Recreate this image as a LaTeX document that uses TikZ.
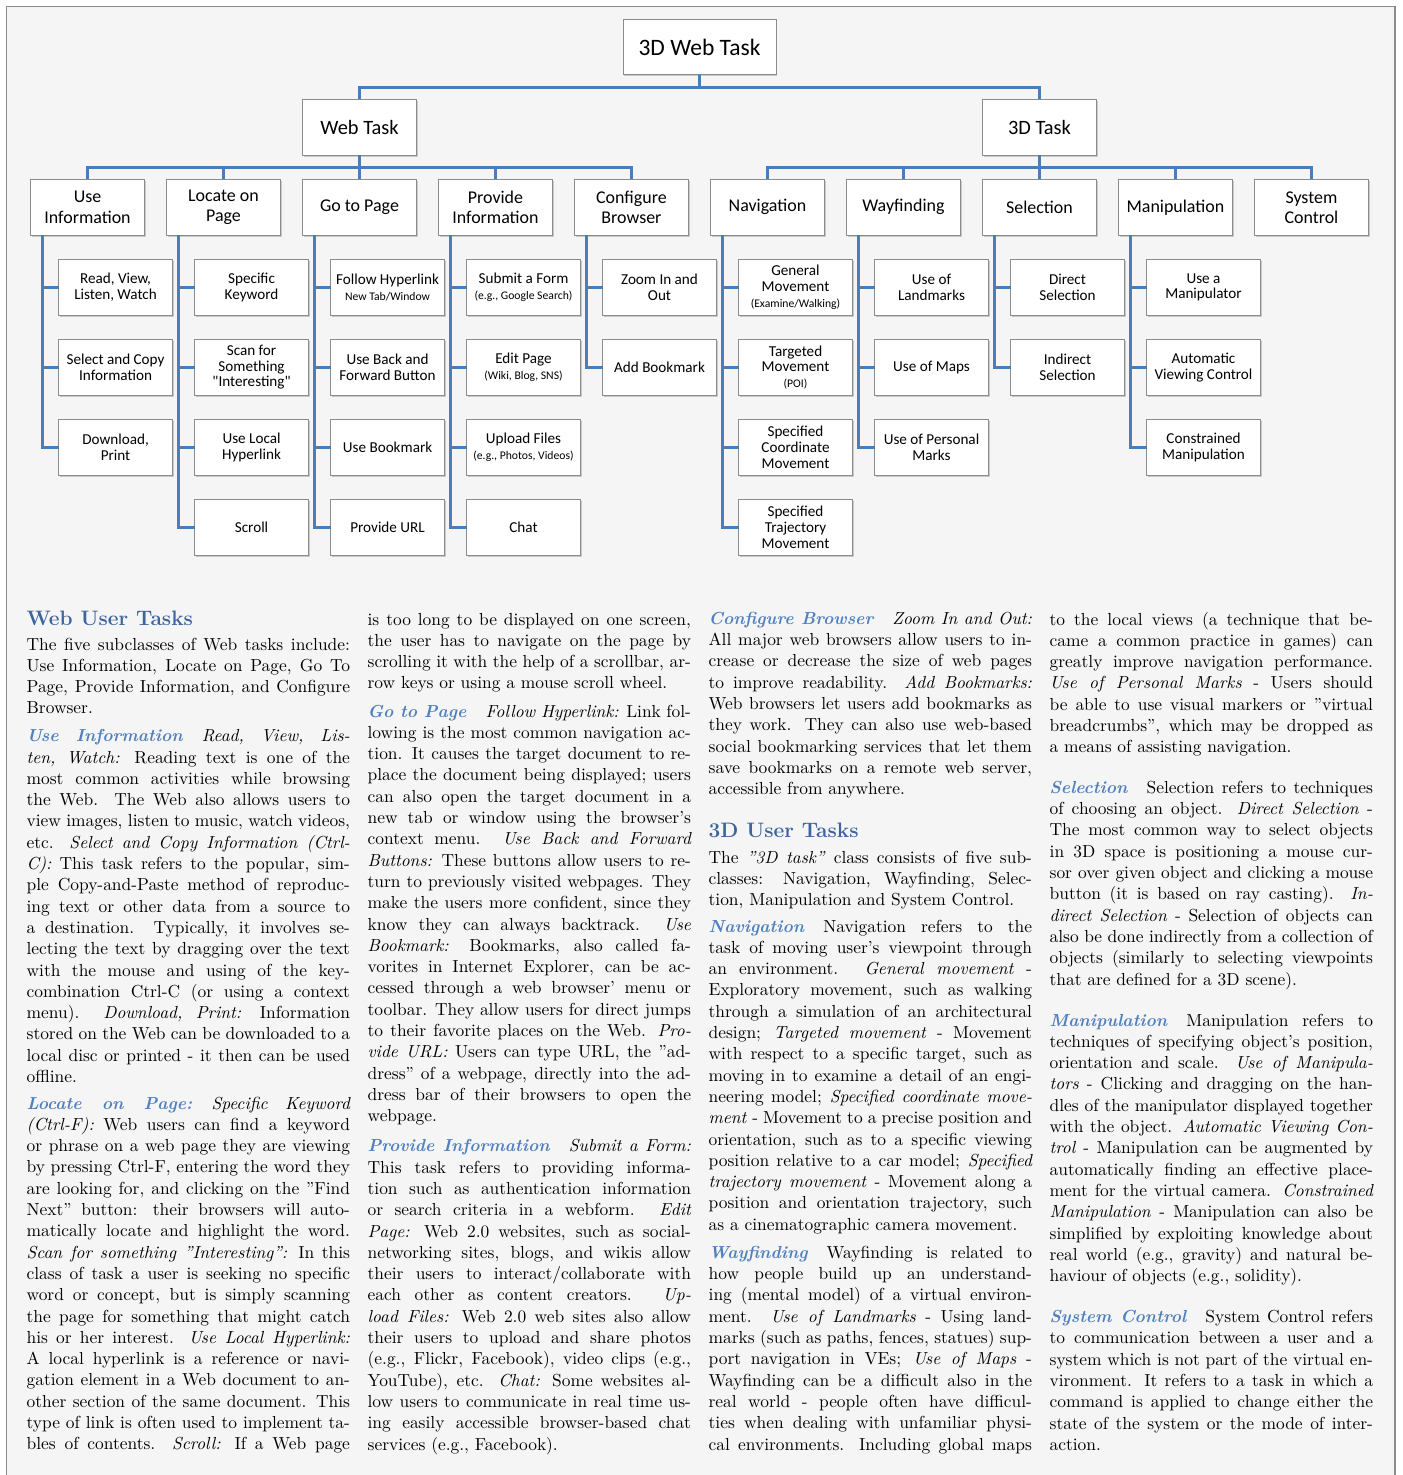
\documentclass[tikz,border=0pt]{standalone}
\usepackage{fontspec}
\usepackage{xcolor}
\usetikzlibrary{positioning,shadows}

\newfontfamily\boxfont{Carlito}

\definecolor{linkblue}{RGB}{74,126,187}
\definecolor{boxgray}{RGB}{140,140,140}
\definecolor{paper}{RGB}{245,245,245}
\definecolor{headblue}{RGB}{62,100,158}
\definecolor{subblue}{RGB}{80,128,190}

\newcommand{\br}{\linebreak}
\newcommand{\subtask}[1]{{\color{subblue}\bfseries\itshape #1}\hspace{11pt}\ignorespaces}
\newcommand{\smalltxt}[1]{{\fontsize{6.7}{8}\selectfont #1}}
\newcommand{\fullpar}{\parfillskip=0pt\par}

\tikzset{
  box/.style={draw=boxgray, line width=0.5pt, fill=white, align=center,
    inner sep=1pt, outer sep=0pt,
    drop shadow={shadow xshift=0.8pt, shadow yshift=-1pt, fill=black!60, opacity=0.3}},
  root/.style={box, minimum width=87.8pt, minimum height=31.6pt,
    font=\boxfont\fontsize{13.5}{15}\selectfont},
  task/.style={box, minimum width=65.2pt, minimum height=32.1pt,
    font=\boxfont\fontsize{11.7}{13}\selectfont},
  cat/.style={box, minimum width=65.2pt, minimum height=32.1pt,
    font=\boxfont\fontsize{10.3}{11.5}\selectfont},
  leaf/.style={box, minimum width=65.2pt, minimum height=32.1pt,
    font=\boxfont\fontsize{8.7}{9}\selectfont},
  link/.style={draw=linkblue, line width=1.6pt},
  para/.style={anchor=base west, inner sep=0pt, text width=185.6pt, align=justify,
    font=\fontsize{10}{12.23}\selectfont\sloppy},
  head/.style={anchor=base west, inner sep=0pt, text=headblue,
    font=\fontsize{12}{14}\selectfont\bfseries}
}

\begin{document}
\begin{tikzpicture}[x=0.574pt, y=-0.574pt, node distance=13.8pt]
  \useasboundingbox (0,0) rectangle (1402,1475);
  \fill[paper] (6.3,6.3) rectangle (1395,1475);
  \draw[boxgray, line width=0.8pt] (6.3,1475) -- (6.3,6.3) -- (1395,6.3) -- (1395,1475);

  % top of the tree
  \node[root] (all) at (699.5,47) {3D Web Task};
  \node[task] (web) at (359.5,127.3) {Web Task};
  \node[task] (three) at (1039.5,127.3) {3D Task};

  \node[cat] (ui) at (87.5,207.3) {Use\\Information};
  \node[cat, right=12.86pt of ui] (lp) {Locate on\\Page};
  \node[cat, right=12.86pt of lp] (gp) {Go to Page};
  \node[cat, right=12.86pt of gp] (pi) {Provide\\Information};
  \node[cat, right=12.86pt of pi] (cb) {Configure\\Browser};
  \node[cat, right=12.86pt of cb] (nv) {Navigation};
  \node[cat, right=12.86pt of nv] (wf) {Wayfinding};
  \node[cat, right=12.86pt of wf] (sl) {Selection};
  \node[cat, right=12.86pt of sl] (mp) {Manipulation};
  \node[cat, right=12.86pt of mp] (sc) {System\\Control};

  % web leaves
  \node[leaf, below=of ui, xshift=16.1pt] (ui1) {Read, View,\\Listen, Watch};
  \node[leaf, below=of ui1] (ui2) {Select and Copy\\Information};
  \node[leaf, below=of ui2] (ui3) {Download,\\Print};

  \node[leaf, below=of lp, xshift=16.1pt] (lp1) {Specific\\Keyword};
  \node[leaf, below=of lp1] (lp2) {Scan for\\Something\\"Interesting"};
  \node[leaf, below=of lp2] (lp3) {Use Local\\Hyperlink};
  \node[leaf, below=of lp3] (lp4) {Scroll};

  \node[leaf, below=of gp, xshift=16.1pt] (gp1) {Follow Hyperlink\\\smalltxt{New Tab/Window}};
  \node[leaf, below=of gp1] (gp2) {Use Back and\\Forward Button};
  \node[leaf, below=of gp2] (gp3) {Use Bookmark};
  \node[leaf, below=of gp3] (gp4) {Provide URL};

  \node[leaf, below=of pi, xshift=16.1pt] (pi1) {Submit a Form\\\smalltxt{(e.g., Google Search)}};
  \node[leaf, below=of pi1] (pi2) {Edit Page\\\smalltxt{(Wiki, Blog, SNS)}};
  \node[leaf, below=of pi2] (pi3) {Upload Files\\\smalltxt{(e.g., Photos, Videos)}};
  \node[leaf, below=of pi3] (pi4) {Chat};

  \node[leaf, below=of cb, xshift=16.1pt] (cb1) {Zoom In and\\Out};
  \node[leaf, below=of cb1] (cb2) {Add Bookmark};

  % 3d leaves
  \node[leaf, below=of nv, xshift=16.1pt] (nv1) {General\\Movement\\\smalltxt{(Examine/Walking)}};
  \node[leaf, below=of nv1] (nv2) {Targeted\\Movement\\\smalltxt{(POI)}};
  \node[leaf, below=of nv2] (nv3) {Specified\\Coordinate\\Movement};
  \node[leaf, below=of nv3] (nv4) {Specified\\Trajectory\\Movement};

  \node[leaf, below=of wf, xshift=16.1pt] (wf1) {Use of\\Landmarks};
  \node[leaf, below=of wf1] (wf2) {Use of Maps};
  \node[leaf, below=of wf2] (wf3) {Use of Personal\\Marks};

  \node[leaf, below=of sl, xshift=16.1pt] (sl1) {Direct\\Selection};
  \node[leaf, below=of sl1] (sl2) {Indirect\\Selection};

  \node[leaf, below=of mp, xshift=16.1pt] (mp1) {Use a\\Manipulator};
  \node[leaf, below=of mp1] (mp2) {Automatic\\Viewing Control};
  \node[leaf, below=of mp2] (mp3) {Constrained\\Manipulation};

  % connectors
  \coordinate (bus) at (699.5,87.7);
  \draw[link] (all) -- (bus);
  \draw[link] (bus) -| (web);
  \draw[link] (bus) -| (three);
  \coordinate (webbus) at (359.5,167.7);
  \coordinate (3dbus) at (1039.5,167.7);
  \draw[link] (web) -- (webbus);
  \draw[link] (three) -- (3dbus);
  \foreach \c in {ui,lp,gp,pi,cb} \draw[link] (webbus) -| (\c);
  \foreach \c in {nv,wf,sl,mp,sc} \draw[link] (3dbus) -| (\c);
  \foreach \c/\n in {ui/3,lp/4,gp/4,pi/4,cb/2,nv/4,wf/3,sl/2,mp/3}{
    \coordinate (\c-top) at ([xshift=-25.7pt]\c.south);
    \foreach \k in {1,...,\n} \draw[link] (\c-top) |- (\c\k);
  }

  % first column
  \node[head] (h-web) at (26.3,625) {Web User Tasks};
  \node[para] (p-intro) at (26.3,650) {The five subclasses of Web tasks include:\br
Use Information, Locate on Page, Go To\br
Page, Provide Information, and Configure\br
Browser.};
  \node[para] (p-useinfo) at (26.3,741.7) {\subtask{Use Information} \textit{Read, View, Lis-\br
ten, Watch:} Reading text is one of the\br
most common activities while browsing\br
the Web. The Web also allows users to\br
view images, listen to music, watch videos,\br
etc. \textit{Select and Copy Information (Ctrl-\br
C):} This task refers to the popular, sim-\br
ple Copy-and-Paste method of reproduc-\br
ing text or other data from a source to\br
a destination. Typically, it involves se-\br
lecting the text by dragging over the text\br
with the mouse and using of the key-\br
combination Ctrl-C (or using a context\br
menu). \textit{Download, Print:} Information\br
stored on the Web can be downloaded to a\br
local disc or printed - it then can be used\br
offline.};
  \node[para] (p-locate) at (26.3,1109) {\subtask{Locate on Page:} \textit{Specific Keyword\br
(Ctrl-F):} Web users can find a keyword\br
or phrase on a web page they are viewing\br
by pressing Ctrl-F, entering the word they\br
are looking for, and clicking on the ”Find\br
Next” button: their browsers will auto-\br
matically locate and highlight the word.\br
\textit{Scan for something ”Interesting”:} In this\br
class of task a user is seeking no specific\br
word or concept, but is simply scanning\br
the page for something that might catch\br
his or her interest. \textit{Use Local Hyperlink:}\br
A local hyperlink is a reference or navi-\br
gation element in a Web document to an-\br
other section of the same document. This\br
type of link is often used to implement ta-\br
bles of contents. \textit{Scroll:} If a Web page\fullpar};

  % second column
  \node[para] (p-scroll) at (367.3,625) {is too long to be displayed on one screen,\br
the user has to navigate on the page by\br
scrolling it with the help of a scrollbar, ar-\br
row keys or using a mouse scroll wheel.};
  \node[para] (p-goto) at (367.3,717) {\subtask{Go to Page} \textit{Follow Hyperlink:} Link fol-\br
lowing is the most common navigation ac-\br
tion. It causes the target document to re-\br
place the document being displayed; users\br
can also open the target document in a\br
new tab or window using the browser's\br
context menu. \textit{Use Back and Forward\br
Buttons:} These buttons allow users to re-\br
turn to previously visited webpages. They\br
make the users more confident, since they\br
know they can always backtrack. \textit{Use\br
Bookmark:} Bookmarks, also called fa-\br
vorites in Internet Explorer, can be ac-\br
cessed through a web browser' menu or\br
toolbar. They allow users for direct jumps\br
to their favorite places on the Web. \textit{Pro-\br
vide URL:} Users can type URL, the ”ad-\br
dress” of a webpage, directly into the ad-\br
dress bar of their browsers to open the\br
webpage.};
  \node[para] (p-provide) at (367.3,1151.8) {\subtask{Provide Information} \textit{Submit a Form:}\br
This task refers to providing informa-\br
tion such as authentication information\br
or search criteria in a webform. \textit{Edit\br
Page:} Web 2.0 websites, such as social-\br
networking sites, blogs, and wikis allow\br
their users to interact/collaborate with\br
each other as content creators. \textit{Up-\br
load Files:} Web 2.0 web sites also allow\br
their users to upload and share photos\br
(e.g., Flickr, Facebook), video clips (e.g.,\br
YouTube), etc. \textit{Chat:} Some websites al-\br
low users to communicate in real time us-\br
ing easily accessible browser-based chat\br
services (e.g., Facebook).};

  % third column
  \node[para] (p-config) at (708.3,624.3) {\subtask{Configure Browser} \textit{Zoom In and Out:}\br
All major web browsers allow users to in-\br
crease or decrease the size of web pages\br
to improve readability. \textit{Add Bookmarks:}\br
Web browsers let users add bookmarks as\br
they work. They can also use web-based\br
social bookmarking services that let them\br
save bookmarks on a remote web server,\br
accessible from anywhere.};
  \node[head] (h-3d) at (708.3,837.3) {3D User Tasks};
  \node[para] (p-3dintro) at (708.3,863.3) {The \textit{”3D task”} class consists of five sub-\br
classes: Navigation, Wayfinding, Selec-\br
tion, Manipulation and System Control.};
  \node[para] (p-nav) at (708.3,932) {\subtask{Navigation} Navigation refers to the\br
task of moving user's viewpoint through\br
an environment. \textit{General movement} -\br
Exploratory movement, such as walking\br
through a simulation of an architectural\br
design; \textit{Targeted movement} - Movement\br
with respect to a specific target, such as\br
moving in to examine a detail of an engi-\br
neering model; \textit{Specified coordinate move-\br
ment} - Movement to a precise position and\br
orientation, such as to a specific viewing\br
position relative to a car model; \textit{Specified\br
trajectory movement} - Movement along a\br
position and orientation trajectory, such\br
as a cinematographic camera movement.};
  \node[para] (p-way) at (708.3,1258.3) {\subtask{Wayfinding} Wayfinding is related to\br
how people build up an understand-\br
ing (mental model) of a virtual environ-\br
ment. \textit{Use of Landmarks} - Using land-\br
marks (such as paths, fences, statues) sup-\br
port navigation in VEs; \textit{Use of Maps} -\br
Wayfinding can be a difficult also in the\br
real world - people often have difficul-\br
ties when dealing with unfamiliar physi-\br
cal environments. Including global maps\fullpar};

  % fourth column
  \node[para] (p-marks) at (1049.3,625) {to the local views (a technique that be-\br
came a common practice in games) can\br
greatly improve navigation performance.\br
\textit{Use of Personal Marks} - Users should\br
be able to use visual markers or ”virtual\br
breadcrumbs”, which may be dropped as\br
a means of assisting navigation.};
  \node[para] (p-sel) at (1049.3,793.3) {\subtask{Selection} Selection refers to techniques\br
of choosing an object. \textit{Direct Selection} -\br
The most common way to select objects\br
in 3D space is positioning a mouse cur-\br
sor over given object and clicking a mouse\br
button (it is based on ray casting). \textit{In-\br
direct Selection} - Selection of objects can\br
also be done indirectly from a collection of\br
objects (similarly to selecting viewpoints\br
that are defined for a 3D scene).};
  \node[para] (p-manip) at (1049.3,1026) {\subtask{Manipulation} Manipulation refers to\br
techniques of specifying object's position,\br
orientation and scale. \textit{Use of Manipula-\br
tors} - Clicking and dragging on the han-\br
dles of the manipulator displayed together\br
with the object. \textit{Automatic Viewing Con-\br
trol} - Manipulation can be augmented by\br
automatically finding an effective place-\br
ment for the virtual camera. \textit{Constrained\br
Manipulation} - Manipulation can also be\br
simplified by exploiting knowledge about\br
real world (e.g., gravity) and natural be-\br
haviour of objects (e.g., solidity).};
  \node[para] (p-sys) at (1049.3,1322.6) {\subtask{System Control} System Control refers\br
to communication between a user and a\br
system which is not part of the virtual en-\br
vironment. It refers to a task in which a\br
command is applied to change either the\br
state of the system or the mode of inter-\br
action.};
\end{tikzpicture}
\end{document}
